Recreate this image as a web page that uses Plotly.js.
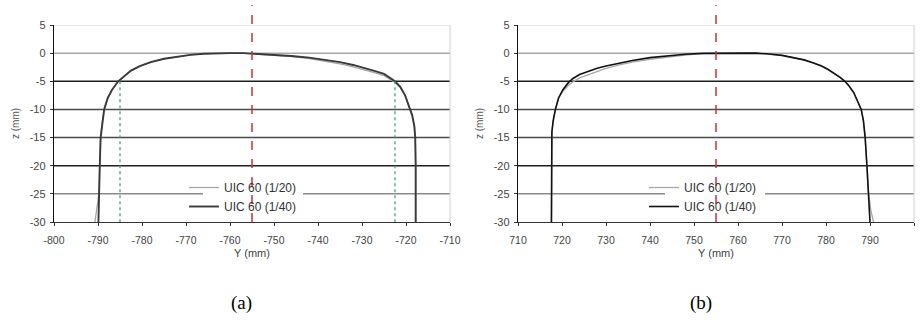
<!DOCTYPE html>
<html>
<head>
<meta charset="utf-8">
<script src="https://cdn.plot.ly/plotly-3.0.1.min.js"></script>
<style>html,body{margin:0;padding:0;background:#fff;}#chart{width:922px;height:325px;}</style>
</head>
<body>
<div id="chart"></div>
<script>
// ---- data: left rail (negative Y) ----
const leftY40 = [-789.9,-789.8,-789.6,-789.4,-789.0,-788.6,-787.8,-786.8,-785.4,-784.0,-782.5,-780.5,-778,-775,-772,-769,-766,-763,-760,-757,-754,-750,-746,-742,-738,-735,-732,-729,-727,-725,-724,-722.5,-721.3,-720.2,-719.3,-718.6,-718.1,-717.9,-717.8,-717.8];
const leftZ40 = [-30,-25,-20,-15,-12,-10,-8,-6.5,-5,-4,-3.1,-2.3,-1.6,-1.0,-0.6,-0.3,-0.1,0,0,0,-0.1,-0.3,-0.5,-0.8,-1.2,-1.6,-2.1,-2.7,-3.2,-3.7,-4.2,-5,-6,-7.5,-9.5,-11,-13,-15,-20,-30];
const leftY20 = [-790.7,-790.2,-789.8,-789.6,-789.4,-789.0,-788.6,-787.8,-786.8,-785.4,-784.0,-782.5,-780.5,-778,-775,-772,-769,-766,-763,-760,-757,-754,-750,-746,-742,-738,-735,-732,-729,-727,-725,-724,-722.5,-721.3,-720.2,-719.3,-718.6,-718.1,-717.9,-717.8,-717.8];
const leftZ20 = [-30,-27,-25,-20,-15,-12,-10,-8,-6.5,-5,-4,-3.1,-2.3,-1.6,-1.0,-0.6,-0.3,-0.1,0,0,0,-0.15,-0.35,-0.6,-0.95,-1.45,-1.9,-2.45,-3.05,-3.5,-4.0,-4.5,-5.2,-6.1,-7.5,-9.5,-11,-13,-15,-20,-30];

// ---- data: right rail (positive Y) ----
const rightY40 = [717.6,717.6,717.7,718.0,718.5,719.2,720.2,721.5,722.5,724,726,728,730,733,736,740,744,748,752,756,760,764,767,770,772.5,775,777,779,780.5,782,783.2,784.3,785.2,786.3,787.2,788,788.5,788.9,789.3,789.7,790];
const rightZ40 = [-30,-20,-14,-12,-10,-8,-6.5,-5.2,-4.5,-3.8,-3.2,-2.7,-2.3,-1.8,-1.3,-0.8,-0.45,-0.2,-0.05,0,0,0,-0.15,-0.4,-0.8,-1.2,-1.7,-2.3,-2.9,-3.6,-4.3,-5,-5.8,-7,-8.5,-10,-12,-15,-20,-25,-30];
const rightY20 = [717.6,717.6,717.7,718.0,718.5,719.2,720.2,721.5,722.5,724,726,728,730,733,736,740,744,748,752,756,760,764,767,770,772.5,775,777,779,780.5,782,783.2,784.3,785.2,786.3,787.2,788,788.5,788.9,789.3,789.7,790.2,790.8];
const rightZ20 = [-30,-20,-14,-12,-10,-8,-6.8,-5.7,-5.1,-4.4,-3.8,-3.2,-2.7,-2.1,-1.6,-1.1,-0.7,-0.35,-0.1,0,0,0,-0.15,-0.4,-0.8,-1.2,-1.7,-2.3,-2.9,-3.6,-4.3,-5,-5.8,-7,-8.5,-10,-12,-15,-20,-25,-28,-30];

// reference lines
const centerLines = [-755, 755];          // red dashed (rail centre)
const contactLinesLeft = [-785, -722.5];  // green dotted, from z=-5 down
const contactTop = -5;
const zBottom = -30;

// axis ticks / tick labels / gridlines
const yTicks = [5, 0, -5, -10, -15, -20, -25, -30];
const yTickText = ['5', '0', '-5', '-10', '-15', '-20', '-25', '-30'];
const xTicksLeft = [-800, -790, -780, -770, -760, -750, -740, -730, -720, -710];
const xTickTextLeft = ['-800', '-790', '-780', '-770', '-760', '-750', '-740', '-730', '-720', '-710'];
const xTicksRight = [710, 720, 730, 740, 750, 760, 770, 780, 790, 800];
const xTickTextRight = ['710', '720', '730', '740', '750', '760', '770', '780', '790', '800'];
const gridLevels = [5, 0, -5, -10, -15, -20, -25];
const gridColors = ['#d4d4d4', '#a8a8a8', '#1e1e1e', '#4a4a4a', '#4a4a4a', '#1e1e1e', '#8a8a8a'];
const gridWidths = [1, 1.5, 1.6, 1.6, 1.6, 1.6, 1.5];
const seriesNames = ['UIC 60 (1/20)', 'UIC 60 (1/40)'];
const panelLabels = ['(a)', '(b)'];

const FONT = 'Liberation Sans, Arial, sans-serif';

const traces = [
  {x: leftY20, y: leftZ20, name: seriesNames[0], xaxis: 'x', yaxis: 'y', mode: 'lines', line: {color: '#a6a6a6', width: 1.3}, legend: 'legend'},
  {x: leftY40, y: leftZ40, name: seriesNames[1], xaxis: 'x', yaxis: 'y', mode: 'lines', line: {color: '#3a3a3a', width: 1.9}, legend: 'legend'},
  {x: rightY20, y: rightZ20, name: seriesNames[0], xaxis: 'x2', yaxis: 'y2', mode: 'lines', line: {color: '#a6a6a6', width: 1.3}, legend: 'legend2'},
  {x: rightY40, y: rightZ40, name: seriesNames[1], xaxis: 'x2', yaxis: 'y2', mode: 'lines', line: {color: '#111111', width: 1.6}, legend: 'legend2'}
];
contactLinesLeft.forEach(v => traces.push({
  x: [v, v], y: [contactTop, zBottom], xaxis: 'x', yaxis: 'y', mode: 'lines',
  line: {color: '#3a9a6a', width: 1.2, dash: 'dot'}, showlegend: false, hoverinfo: 'skip'
}));

const shapes = [];
[['x', 'y'], ['x2', 'y2']].forEach(([xa, ya], i) => {
  gridLevels.forEach((g, k) => shapes.push({
    type: 'line', layer: 'below', xref: xa + ' domain', yref: ya, x0: 0, x1: 1, y0: g, y1: g,
    line: {color: gridColors[k], width: gridWidths[k]}
  }));
  // right border
  shapes.push({type: 'line', layer: 'below', xref: xa + ' domain', yref: ya + ' domain', x0: 1, x1: 1, y0: 0, y1: 1,
    line: {color: '#cfcfcf', width: 1}});
});
// white backgrounds behind legends
shapes.push({type: 'rect', layer: 'below', xref: 'paper', yref: 'paper', x0: 203/922, x1: 303/922, y0: 1-210/325, y1: 1-178/325, fillcolor: '#ffffff', line: {width: 0}});
shapes.push({type: 'rect', layer: 'below', xref: 'paper', yref: 'paper', x0: 665/922, x1: 765/922, y0: 1-210/325, y1: 1-178/325, fillcolor: '#ffffff', line: {width: 0}});
// red dashed centre lines (extend above the plot)
centerLines.forEach((c, i) => shapes.push({
  type: 'line', layer: 'above', xref: i === 0 ? 'x' : 'x2', yref: 'paper', x0: c, x1: c, y0: 1-222/325, y1: 1-5/325,
  line: {color: '#c8323a', width: 1.5, dash: 'dash'}
}));

const yDom = [1 - 222/325, 1 - 25/325];
function xAx(domain, range, tv, tt) {
  return {
    domain: domain, range: range, tickvals: tv, ticktext: tt, showgrid: false, zeroline: false,
    showline: true, linecolor: '#333', linewidth: 1.2, ticks: 'outside', ticklen: 3, tickcolor: '#333',
    ticklabelstandoff: 5,
    tickfont: {family: FONT, size: 10.5, color: '#444'},
    title: {text: 'Y (mm)', font: {family: FONT, size: 11, color: '#444'}, standoff: 4}
  };
}
function yAx(anchor) {
  return {
    domain: yDom, range: [-30, 5], tickvals: yTicks, ticktext: yTickText, showgrid: false, zeroline: false,
    showline: true, linecolor: '#111', linewidth: 1.2, ticks: 'outside', ticklen: 3, tickcolor: '#333',
    anchor: anchor, ticklabelstandoff: 2,
    tickfont: {family: FONT, size: 11, color: '#444'},
    title: {text: 'z (mm)', font: {family: FONT, size: 10, color: '#555'}, standoff: 8}
  };
}

const legendBase = {
  bgcolor: 'rgba(0,0,0,0)', borderwidth: 0, itemwidth: 30, xanchor: 'left', yanchor: 'top',
  font: {family: FONT, size: 12, color: '#333'}, tracegroupgap: 0
};

const layout = {
  width: 922, height: 325, margin: {l: 0, r: 0, t: 0, b: 0},
  paper_bgcolor: '#ffffff', plot_bgcolor: 'rgba(0,0,0,0)',
  showlegend: true,
  xaxis: Object.assign(xAx([54/922, 450/922], [-800, -710], xTicksLeft, xTickTextLeft), {anchor: 'y'}),
  yaxis: yAx('x'),
  xaxis2: Object.assign(xAx([518/922, 914/922], [710, 800], xTicksRight, xTickTextRight), {anchor: 'y2'}),
  yaxis2: yAx('x2'),
  legend: Object.assign({}, legendBase, {x: 184/922, y: 1 - 173/325}),
  legend2: Object.assign({}, legendBase, {x: 644/922, y: 1 - 173/325}),
  shapes: shapes,
  annotations: panelLabels.map((t, i) => ({
    text: t, xref: 'paper', yref: 'paper', x: (i === 0 ? 241 : 701)/922, y: 1 - 303/325,
    xanchor: 'center', yanchor: 'middle', showarrow: false,
    font: {family: 'Liberation Serif, Times New Roman, serif', size: 19, color: '#000'}
  }))
};

Plotly.newPlot('chart', traces, layout, {staticPlot: true, displayModeBar: false});
</script>
</body>
</html>
